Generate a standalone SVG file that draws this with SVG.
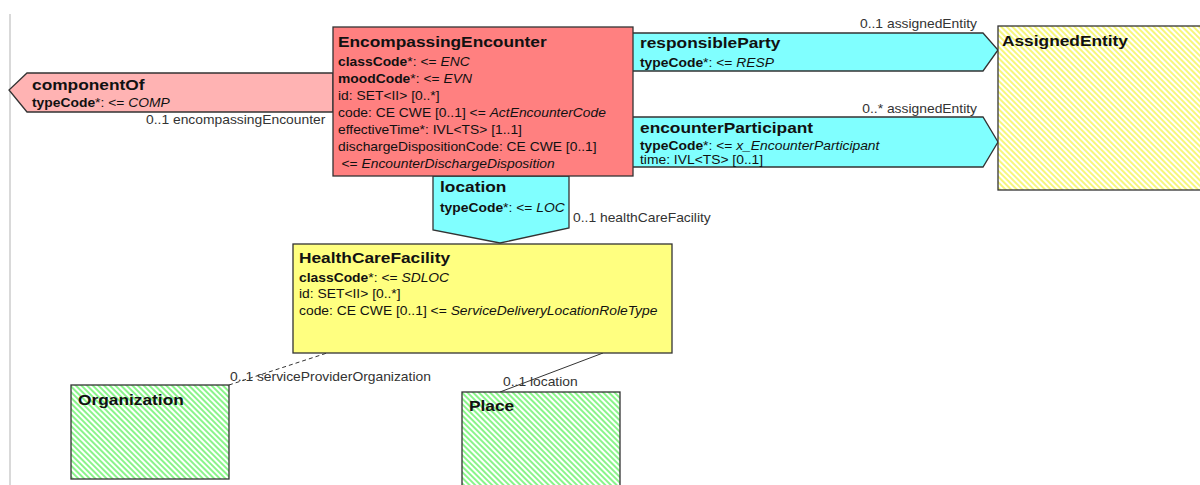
<svg xmlns="http://www.w3.org/2000/svg" width="1200" height="485" viewBox="0 0 1200 485">
<defs>
<pattern id="hatchG" width="4" height="4" patternUnits="userSpaceOnUse" patternTransform="rotate(-45)">
<rect width="4" height="4" fill="#ffffff"/>
<rect width="2" height="4" fill="#8af58a"/>
</pattern>
<pattern id="hatchY" width="4" height="4" patternUnits="userSpaceOnUse" patternTransform="rotate(-45)">
<rect width="4" height="4" fill="#ffffff"/>
<rect width="2" height="4" fill="#f7f77a"/>
</pattern>
</defs>
<style>
text{font-family:"Liberation Sans",Arial,sans-serif;fill:#111;}
.t{font-size:15px;font-weight:bold;}
.a{font-size:12px;}
.b{font-weight:bold;}
.i{font-style:italic;}
.l{font-size:12px;fill:#333;}
.box{stroke:#333;stroke-width:1.3;}
.conn{stroke:#333;stroke-width:1;fill:none;}
</style>
<line x1="10" y1="14" x2="10" y2="485" stroke="#cccccc" stroke-width="1.5"/>

<g id="connectors">
<path class="conn" d="M229,385 L327,353" stroke-dasharray="4,3"/>
<path class="conn" d="M500,392 L603,353"/>
<g transform="translate(146 0) scale(1.155 1)"><text class="l" x="0" y="124">0..1 encompassingEncounter</text></g>
<g transform="translate(977 0) scale(1.155 1)"><text class="l" x="0" y="28" text-anchor="end">0..1 assignedEntity</text></g>
<g transform="translate(977 0) scale(1.155 1)"><text class="l" x="0" y="113" text-anchor="end">0..* assignedEntity</text></g>
<g transform="translate(573 0) scale(1.155 1)"><text class="l" x="0" y="222">0..1 healthCareFacility</text></g>
<g transform="translate(230 0) scale(1.155 1)"><text class="l" x="0" y="381">0..1 serviceProviderOrganization</text></g>
<g transform="translate(503 0) scale(1.155 1)"><text class="l" x="0" y="386">0..1 location</text></g>
</g>

<g id="componentOf">
<polygon class="box" points="333,73 27,73 9,90 27,112 333,112" fill="#ffb3b3"/>
<g transform="translate(32 0) scale(1.155 1)">
<text class="t" x="0" y="90">componentOf</text>
<text class="a" x="0" y="107"><tspan class="b">typeCode</tspan>*: &lt;= <tspan class="i">COMP</tspan></text>
</g>
</g>

<g id="responsibleParty">
<polygon class="box" points="632,33 983,33 998,50 983,71 632,71" fill="#80ffff"/>
<g transform="translate(640 0) scale(1.155 1)">
<text class="t" x="0" y="48">responsibleParty</text>
<text class="a" x="0" y="67"><tspan class="b">typeCode</tspan>*: &lt;= <tspan class="i">RESP</tspan></text>
</g>
</g>

<g id="encounterParticipant">
<polygon class="box" points="632,117 983,117 998,142 983,167 632,167" fill="#80ffff"/>
<g transform="translate(640 0) scale(1.155 1)">
<text class="t" x="0" y="133">encounterParticipant</text>
<text class="a" x="0" y="150"><tspan class="b">typeCode</tspan>*: &lt;= <tspan class="i">x_EncounterParticipant</tspan></text>
<text class="a" x="0" y="164">time: IVL&lt;TS&gt; [0..1]</text>
</g>
</g>

<g id="location">
<polygon class="box" points="433,176 569,176 569,228 500,243 433,230" fill="#80ffff"/>
<g transform="translate(440 0) scale(1.155 1)">
<text class="t" x="0" y="192">location</text>
<text class="a" x="0" y="212"><tspan class="b">typeCode</tspan>*: &lt;= <tspan class="i">LOC</tspan></text>
</g>
</g>

<g id="EncompassingEncounter">
<rect class="box" x="333" y="27" width="300" height="149" fill="#ff8080"/>
<g transform="translate(338 0) scale(1.155 1)">
<text class="t" x="0" y="47">EncompassingEncounter</text>
<text class="a" x="0" y="66"><tspan class="b">classCode</tspan>*: &lt;= <tspan class="i">ENC</tspan></text>
<text class="a" x="0" y="83"><tspan class="b">moodCode</tspan>*: &lt;= <tspan class="i">EVN</tspan></text>
<text class="a" x="0" y="100">id: SET&lt;II&gt; [0..*]</text>
<text class="a" x="0" y="117">code: CE CWE [0..1] &lt;= <tspan class="i">ActEncounterCode</tspan></text>
<text class="a" x="0" y="134">effectiveTime*: IVL&lt;TS&gt; [1..1]</text>
<text class="a" x="0" y="151">dischargeDispositionCode: CE CWE [0..1]</text>
<text class="a" x="3" y="168">&lt;= <tspan class="i">EncounterDischargeDisposition</tspan></text>
</g>
</g>

<g id="AssignedEntity">
<rect class="box" x="998" y="26" width="210" height="164" fill="url(#hatchY)"/>
<g transform="translate(1002 0) scale(1.155 1)">
<text class="t" x="0" y="46">AssignedEntity</text>
</g>
</g>

<g id="HealthCareFacility">
<rect class="box" x="293" y="244" width="379" height="109" fill="#ffff80"/>
<g transform="translate(299 0) scale(1.155 1)">
<text class="t" x="0" y="263">HealthCareFacility</text>
<text class="a" x="0" y="282"><tspan class="b">classCode</tspan>*: &lt;= <tspan class="i">SDLOC</tspan></text>
<text class="a" x="0" y="298">id: SET&lt;II&gt; [0..*]</text>
<text class="a" x="0" y="315">code: CE CWE [0..1] &lt;= <tspan class="i">ServiceDeliveryLocationRoleType</tspan></text>
</g>
</g>

<g id="Organization">
<rect class="box" x="71" y="385" width="158" height="94" fill="url(#hatchG)"/>
<g transform="translate(78 0) scale(1.155 1)">
<text class="t" x="0" y="405">Organization</text>
</g>
</g>

<g id="Place">
<rect class="box" x="462" y="392" width="158" height="110" fill="url(#hatchG)"/>
<g transform="translate(469 0) scale(1.155 1)">
<text class="t" x="0" y="411">Place</text>
</g>
</g>
</svg>
